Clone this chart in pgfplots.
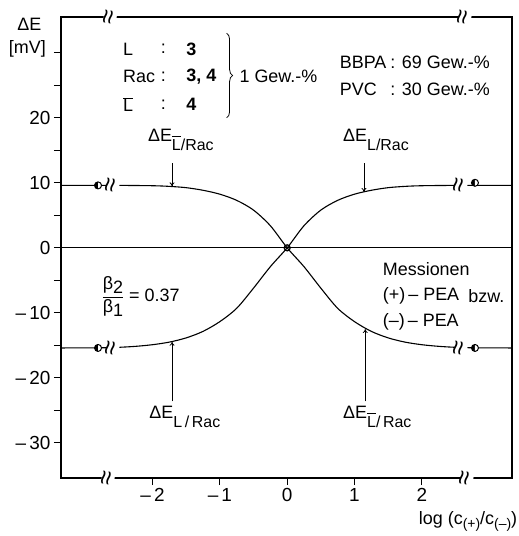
\documentclass[border=0pt]{standalone}
\usepackage{pgfplots}
\pgfplotsset{compat=1.18}
\usepackage{pgfplotstable}
\usepackage{fontspec}
\setmainfont{Liberation Sans}
\usetikzlibrary{decorations.pathreplacing,arrows.meta}

\pgfplotstableread{
x y
-3.36 -15.4
-2.8 -15.38
-2.5 -15.3
-2.25 -15.15
-2.0 -14.9
-1.75 -14.5
-1.5 -13.85
-1.25 -12.85
-1.0 -11.35
-0.75 -9.3
-0.5 -6.2
-0.25 -2.9
0 0
0.25 3.4
0.5 5.8
0.75 7.3
1.0 8.25
1.25 8.85
1.5 9.25
1.75 9.45
2.0 9.55
2.5 9.6
3.34 9.6
}\curveL

\pgfplotstableread{
x y
-3.36 9.6
-2.5 9.6
-2.0 9.55
-1.75 9.45
-1.5 9.25
-1.25 8.85
-1.0 8.25
-0.75 7.3
-0.5 5.8
-0.25 3.4
0 0
0.25 -2.9
0.5 -6.2
0.75 -9.3
1.0 -11.35
1.25 -12.85
1.5 -13.85
1.75 -14.5
2.0 -14.9
2.25 -15.15
2.5 -15.3
2.8 -15.38
3.34 -15.4
}\curveLbar

\newcommand{\Lb}{\hbox{L\llap{\raisebox{13.5bp}{\rule{0.55em}{0.9bp}}}}}
\newcommand{\sub}[1]{\raisebox{-9bp}{\fontsize{16}{18}\selectfont #1}}
\newcommand{\brk}{\fontsize{26}{26}\selectfont ≈}

\begin{document}
\begin{tikzpicture}[font=\fontsize{18}{22}\selectfont]
\useasboundingbox (-61bp,-58bp) rectangle (458bp,478bp);
\begin{axis}[
  at={(0,0)}, anchor=south west,
  scale only axis, width=451bp, height=461bp,
  xmin=-3.36, xmax=3.34, ymin=-35.4, ymax=35.5,
  axis line style={line width=1.2bp},
  tick align=outside, tick pos=left,
  xtick={-2,-1,0,1,2},
  xticklabels={--\,2,--\,1,0,1,2},
  ytick={-30,-20,-10,0,10,20},
  yticklabels={--\,30,--\,20,--\,10,0,10,20},
  extra y ticks={-25,-15,-5,5,15,25,30},
  extra y tick labels={},
  extra y tick style={tick style={line width=1bp,black}},
  major tick length=7bp,
  tick style={line width=1bp, black},
  ticklabel style={font=\fontsize{19}{22}\selectfont},
  clip=false,
]
\addplot[black, line width=1.3bp] coordinates {(-3.36,0) (3.34,0)};
\addplot[black, line width=1.1bp, smooth] table {\curveL};
\addplot[black, line width=1.1bp, smooth] table {\curveLbar};
\addplot[only marks, mark=halfcircle*, mark size=3.5bp,
  mark options={rotate=90, fill=black, draw=black, line width=1bp}]
  coordinates {(-2.81,9.6) (-2.81,-15.4)};
\addplot[only marks, mark=halfcircle*, mark size=3.5bp,
  mark options={rotate=90, fill=black, draw=black, line width=1bp}]
  coordinates {(2.79,10.0) (2.79,-15.4)};
\addplot[only marks, mark=o, mark size=3bp, mark options={line width=1.3bp}]
  coordinates {(0,0)};

% break marks
\node[fill=white, inner sep=0bp, rotate=80] at (axis cs:-2.59,9.6) {\brk};
\node[fill=white, inner sep=0bp, rotate=80] at (axis cs:-2.59,-15.4) {\brk};
\node[fill=white, inner sep=0bp, rotate=80] at (axis cs:2.58,9.6) {\brk};
\node[fill=white, inner sep=0bp, rotate=80] at (axis cs:2.58,-15.4) {\brk};
\node[fill=white, inner sep=0bp, rotate=80] at (axis cs:-2.63,35.5) {\brk};
\node[fill=white, inner sep=0bp, rotate=80] at (axis cs:2.64,35.5) {\brk};
\node[fill=white, inner sep=0bp, rotate=80] at (axis cs:-2.66,-35.4) {\brk};
\node[fill=white, inner sep=0bp, rotate=80] at (axis cs:2.67,-35.4) {\brk};

% axis labels
\node[anchor=center] at (axis cs:-3.83,34.3) {ΔE};
\node[anchor=center] at (axis cs:-3.86,30.6) {[mV]};
\node[anchor=base east, inner sep=0pt] at (axis cs:3.42,-42.6)
  {log (c\raisebox{-4bp}{\fontsize{14}{16}\selectfont (+)}/c\raisebox{-4bp}{\fontsize{14}{16}\selectfont (--)})};

% composition block
\node[anchor=west, inner sep=0pt] at (axis cs:-2.44,30.6) {L};
\node[anchor=west, inner sep=0pt] at (axis cs:-2.44,26.3) {Rac};
\node[anchor=west, inner sep=0pt] at (axis cs:-2.44,22.0) {\Lb};
\node[anchor=west, inner sep=0pt] at (axis cs:-1.88,30.6) {:};
\node[anchor=west, inner sep=0pt] at (axis cs:-1.88,26.3) {:};
\node[anchor=west, inner sep=0pt] at (axis cs:-1.88,22.0) {:};
\node[anchor=west, inner sep=0pt] at (axis cs:-1.50,30.6) {\textbf{3}};
\node[anchor=west, inner sep=0pt] at (axis cs:-1.50,26.3) {\textbf{3, 4}};
\node[anchor=west, inner sep=0pt] at (axis cs:-1.50,22.0) {\textbf{4}};
\draw[decorate, decoration={brace, amplitude=6bp}, line width=0.8bp]
  (axis cs:-0.90,33.0) -- (axis cs:-0.90,20.0);
\node[anchor=west, inner sep=0pt] at (axis cs:-0.71,26.3) {1 Gew.-\%};

\node[anchor=west, inner sep=0pt] at (axis cs:0.78,28.6) {BBPA};
\node[anchor=west, inner sep=0pt] at (axis cs:1.53,28.6) {: 69 Gew.-\%};
\node[anchor=west, inner sep=0pt] at (axis cs:0.78,24.4) {PVC};
\node[anchor=west, inner sep=0pt] at (axis cs:1.53,24.4) {: 30 Gew.-\%};

% curve labels
\node[anchor=base west, inner sep=0pt] at (axis cs:-2.07,16.3) {ΔE\sub{\Lb/Rac}};
\node[anchor=base west, inner sep=0pt] at (axis cs:0.83,16.3) {ΔE\sub{L/Rac}};
\node[anchor=base west, inner sep=0pt] at (axis cs:-2.05,-26.3) {ΔE\sub{L\,/\,Rac}};
\node[anchor=base west, inner sep=0pt] at (axis cs:0.83,-26.3) {ΔE\sub{\Lb/\,Rac}};
\draw[-{To[length=4bp,width=5bp]}, line width=0.8bp] (axis cs:-1.71,13.0) -- (axis cs:-1.71,9.45);
\draw[-{To[length=4bp,width=5bp]}, line width=0.8bp] (axis cs:1.14,13.0) -- (axis cs:1.14,8.6);
\draw[-{To[length=4bp,width=5bp]}, line width=0.8bp] (axis cs:-1.71,-23.6) -- (axis cs:-1.71,-14.45);
\draw[-{To[length=4bp,width=5bp]}, line width=0.8bp] (axis cs:1.16,-23.6) -- (axis cs:1.16,-12.5);

% beta ratio
\node[anchor=west, inner sep=0pt] at (axis cs:-2.76,-7.5)
  {$\displaystyle\frac{\hbox{β\raisebox{-4bp}{2}}}{\hbox{β\raisebox{-4bp}{1}}}$ = 0.37};

% ion block
\node[anchor=west, inner sep=0pt] at (axis cs:1.42,-3.2) {Messionen};
\node[anchor=west, inner sep=0pt] at (axis cs:1.42,-7.4) {(+)\,-- PEA};
\node[anchor=west, inner sep=0pt] at (axis cs:2.69,-7.4) {bzw.};
\node[anchor=west, inner sep=0pt] at (axis cs:1.42,-11.4) {(--)\,-- PEA};
\end{axis}
\end{tikzpicture}
\end{document}
